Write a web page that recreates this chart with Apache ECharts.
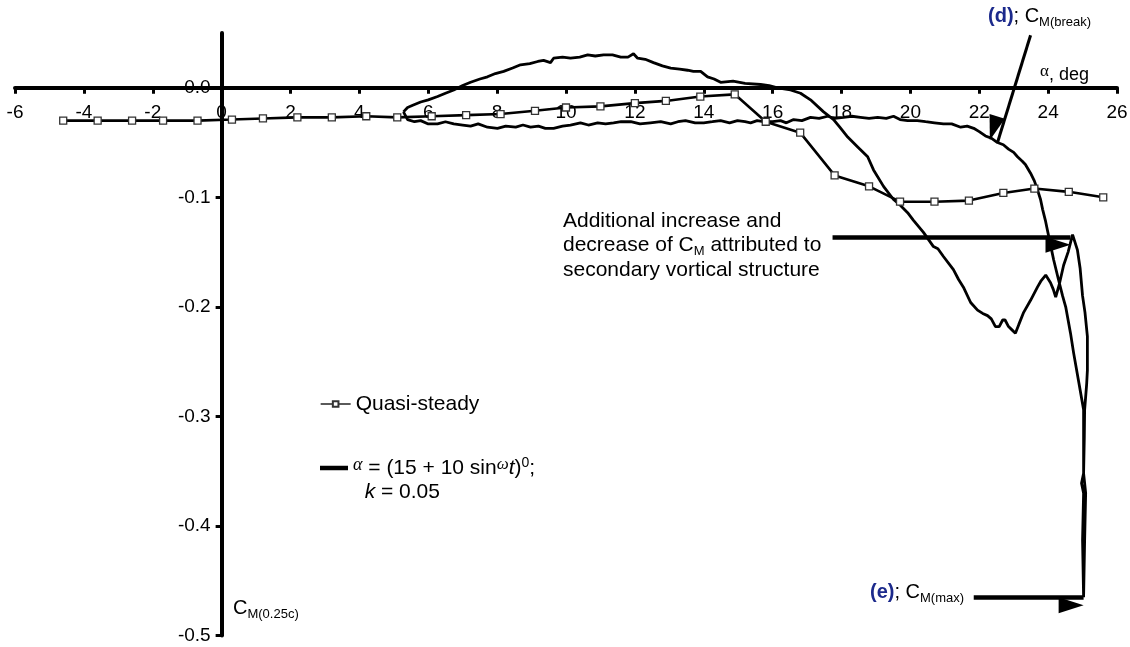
<!DOCTYPE html>
<html><head><meta charset="utf-8">
<script src="https://cdn.jsdelivr.net/npm/echarts@6/dist/echarts.min.js"></script>
<style>html,body{margin:0;padding:0;background:#fff}#c{width:1130px;height:647px}</style>
</head><body><div id="c"></div>
<script>
// ---------- data ----------
const xMin = -6, xMax = 26, xStep = 2;
const yMin = -0.5, yMax = 0.05, yStep = 0.1;
const yTickValues = [-0.5, -0.4, -0.3, -0.2, -0.1, 0];

const qsAlpha = [-4.6,-3.6,-2.6,-1.7,-0.7,0.3,1.2,2.2,3.2,4.2,5.1,6.1,7.1,8.1,9.1,10.0,11.0,12.0,12.9,13.9,14.9,15.8,16.8,17.8,18.8,19.7,20.7,21.7,22.7,23.6,24.6,25.6];
const qsCM = [-0.030,-0.030,-0.030,-0.030,-0.030,-0.029,-0.028,-0.027,-0.027,-0.026,-0.027,-0.026,-0.025,-0.024,-0.021,-0.018,-0.017,-0.014,-0.012,-0.008,-0.006,-0.031,-0.041,-0.080,-0.090,-0.104,-0.104,-0.103,-0.096,-0.092,-0.095,-0.100];

// oscillating case, upstroke (alpha increasing)
const upAlpha = [5.28,5.40,5.60,5.78,6.00,6.27,6.50,6.74,7.00,7.23,
7.45,7.72,8.01,8.25,8.54,8.75,8.97,9.20,9.40,9.64,
9.90,10.13,10.42,10.65,10.92,11.15,11.38,11.60,11.88,12.15,
12.45,12.75,13.04,13.25,13.47,13.75,14.00,14.25,14.49,14.75,
14.98,15.20,15.36,15.55,15.74,16.00,16.23,16.40,16.61,16.85,
17.10,17.35,17.60,17.80,18.06,18.30,18.55,18.80,19.05,19.30,
19.51,19.70,19.92,20.20,20.44,20.70,20.96,21.20,21.46,21.65,
21.84,22.00,22.18,22.35,22.53,22.70,22.85,23.00,23.11,23.25,
23.34,23.49,23.60,23.69,23.78,23.84,23.92,23.98,24.08,24.16,
24.30,24.42,24.51,24.65,24.74,24.88,25.03,25.03,25.03,24.97,
25.03,25.00,25.03];
const upCM = [-0.022,-0.029,-0.031,-0.030,-0.033,-0.033,-0.031,-0.033,-0.034,-0.035,
-0.033,-0.036,-0.037,-0.035,-0.036,-0.034,-0.036,-0.035,-0.037,-0.037,
-0.035,-0.034,-0.032,-0.034,-0.032,-0.033,-0.032,-0.031,-0.031,-0.033,
-0.032,-0.031,-0.033,-0.031,-0.030,-0.032,-0.032,-0.031,-0.030,-0.032,
-0.030,-0.031,-0.032,-0.030,-0.031,-0.031,-0.030,-0.032,-0.029,-0.030,
-0.027,-0.028,-0.026,-0.028,-0.027,-0.026,-0.027,-0.028,-0.027,-0.028,
-0.026,-0.029,-0.030,-0.030,-0.031,-0.032,-0.033,-0.033,-0.036,-0.035,
-0.037,-0.040,-0.044,-0.046,-0.050,-0.052,-0.056,-0.059,-0.063,-0.067,
-0.070,-0.078,-0.085,-0.093,-0.102,-0.111,-0.121,-0.130,-0.145,-0.157,
-0.175,-0.190,-0.200,-0.224,-0.242,-0.267,-0.294,-0.330,-0.352,-0.361,
-0.370,-0.413,-0.465];
// downstroke (alpha decreasing)
const downAlpha = [25.06,25.09,25.06,25.03,25.05,25.06,25.12,25.14,25.14,25.07,
25.00,24.93,24.85,24.71,24.58,24.45,24.32,24.22,24.15,24.07,
23.93,23.80,23.69,23.49,23.29,23.15,23.05,22.95,22.85,22.75,
22.68,22.58,22.47,22.35,22.24,22.10,21.95,21.75,21.54,21.40,
21.25,20.96,20.80,20.67,20.38,20.09,19.92,19.70,19.51,19.22,
18.93,18.76,18.47,18.18,17.95,17.77,17.48,17.10,16.81,16.52,
16.14,15.90,15.65,15.20,14.85,14.49,14.30,14.11,13.91,13.70,
13.53,13.30,13.04,12.80,12.54,12.30,12.08,11.96,11.80,11.59,
11.35,11.09,10.85,10.63,10.40,10.13,9.90,9.64,9.55,9.35,
9.18,8.95,8.68,8.45,8.19,7.95,7.72,7.50,7.23,7.00,
6.74,6.50,6.27,6.00,5.78,5.55,5.40,5.28];
const downCM = [-0.413,-0.370,-0.361,-0.352,-0.320,-0.294,-0.270,-0.258,-0.227,-0.205,
-0.190,-0.165,-0.148,-0.134,-0.150,-0.162,-0.180,-0.191,-0.184,-0.178,
-0.171,-0.176,-0.182,-0.194,-0.205,-0.216,-0.224,-0.221,-0.218,-0.212,
-0.212,-0.218,-0.218,-0.211,-0.208,-0.206,-0.203,-0.196,-0.182,-0.175,
-0.166,-0.154,-0.147,-0.145,-0.132,-0.121,-0.114,-0.107,-0.102,-0.090,
-0.075,-0.063,-0.054,-0.045,-0.036,-0.029,-0.022,-0.011,-0.005,-0.002,
0.000,0.002,0.003,0.004,0.006,0.005,0.008,0.010,0.015,0.015,
0.016,0.017,0.018,0.020,0.023,0.026,0.027,0.031,0.028,0.028,
0.030,0.030,0.029,0.030,0.028,0.027,0.028,0.027,0.023,0.025,
0.024,0.022,0.021,0.018,0.015,0.013,0.010,0.008,0.005,0.002,
-0.002,-0.005,-0.008,-0.011,-0.013,-0.016,-0.018,-0.022];

// annotation arrows (start point, tip) in data units
const arrowBreak = [[23.49, 0.048], [22.53, -0.050]];
const arrowSecondary = [[17.74, -0.136], [24.65, -0.136]];
const arrowMax = [[21.84, -0.465], [25.03, -0.465]];

// ---------- chart ----------
const SANS = 'Liberation Sans, Arial, Helvetica, sans-serif';
const SERIF = 'Liberation Serif, DejaVu Serif, Times New Roman, serif';
const BLUE = '#1c2a8c';
const zip = (a, b) => a.map((v, i) => [v, b[i]]);
const qsData = zip(qsAlpha, qsCM);
const dynData = zip(upAlpha.concat(downAlpha), upCM.concat(downCM));

function gRich(size) {
  return {
    n: {fontFamily: SANS, fontSize: size, lineHeight: 24.5, fill: '#000'},
    b: {fontFamily: SANS, fontSize: size, fontWeight: 'bold', lineHeight: 24.5, fill: BLUE},
    s: {fontFamily: SANS, fontSize: 13, lineHeight: 13, verticalAlign: 'bottom', fill: '#000'},
    ga: {fontFamily: SERIF, fontSize: 17, lineHeight: 15, verticalAlign: 'top', fill: '#000'}
  };
}
function gText(x, yTop, text, size) {
  return {type: 'text', x: x, y: yTop, silent: true,
    style: {text: text, rich: gRich(size), align: 'left', verticalAlign: 'top', fontFamily: SANS, fontSize: size, fill: '#000'}};
}

const arrowLine = (pair, w) => [
  {coord: pair[0], lineStyle: {width: w, color: '#000', type: 'solid'}},
  {coord: pair[1]}
];

const option = {
  animation: false,
  backgroundColor: '#fff',
  textStyle: {fontFamily: SANS},
  grid: {left: 15, right: 13, top: 33, bottom: 11.5, outerBoundsMode: 'none', containLabel: false},
  xAxis: {
    type: 'value', min: xMin, max: xMax, interval: xStep, position: 'bottom', offset: 0,
    axisLine: {onZero: false, lineStyle: {color: '#000', width: 4}},
    axisTick: {show: true, length: 6, lineStyle: {color: '#000', width: 3}},
    axisLabel: {color: '#000', fontSize: 19, margin: 15, fontFamily: SANS},
    splitLine: {show: false}
  },
  yAxis: {
    type: 'value', min: yMin, max: yMax, interval: yStep, position: 'left', offset: 0,
    axisLine: {onZero: false, lineStyle: {color: '#000', width: 4}},
    axisTick: {show: true, length: 6, customValues: yTickValues, lineStyle: {color: '#000', width: 3}},
    axisLabel: {color: '#000', fontSize: 19, margin: 11, fontFamily: SANS, customValues: yTickValues,
      formatter: v => Number(v).toFixed(1)},
    splitLine: {show: false}
  },
  legend: [
    {
      data: ['Quasi-steady'], left: 320, top: 392, padding: 0, selectedMode: false,
      itemWidth: 30, itemHeight: 7, itemGap: 0,
      lineStyle: {width: 1.3},
      textStyle: {color: '#000', fontSize: 21, fontFamily: SANS, lineHeight: 24}
    },
    {
      data: ['dyn'], left: 320, top: 456, padding: 0, selectedMode: false,
      icon: 'rect', itemWidth: 28, itemHeight: 4.5,
      itemStyle: {color: '#000'},
      formatter: () => '{ga|α}{n| = (15 + 10 sin}{gw|ω}{it|t}{n|)}{sup|0}{n|;}\n{n|  }{it|k}{n| = 0.05}',
      textStyle: {
        color: '#000', fontSize: 21, fontFamily: SANS, padding: [24, 0, 0, 0],
        rich: {
          n: {fontFamily: SANS, fontSize: 21, lineHeight: 24, color: '#000'},
          it: {fontFamily: SANS, fontSize: 21, fontStyle: 'italic', lineHeight: 24, color: '#000'},
          ga: {fontFamily: SERIF, fontSize: 18, fontStyle: 'italic', lineHeight: 14, verticalAlign: 'top', color: '#000'},
          gw: {fontFamily: SERIF, fontSize: 17, fontStyle: 'italic', lineHeight: 15, verticalAlign: 'top', color: '#000'},
          sup: {fontFamily: SANS, fontSize: 14, lineHeight: 14, verticalAlign: 'top', color: '#000'}
        }
      }
    }
  ],
  series: [
    {
      name: 'dyn', type: 'line', data: dynData, showSymbol: false, symbol: 'none',
      lineStyle: {color: '#000', width: 2.8}, z: 2, silent: true,
      markLine: {
        silent: true, animation: false,
        symbol: ['none', 'triangle'], symbolSize: [16, 25], symbolOffset: [0, '50%'],
        label: {show: false},
        lineStyle: {color: '#000', width: 4, type: 'solid'},
        itemStyle: {color: '#000'},
        data: [arrowLine(arrowBreak, 3), arrowLine(arrowSecondary, 4.5), arrowLine(arrowMax, 4.5)]
      }
    },
    {
      name: 'Quasi-steady', type: 'line', data: qsData,
      symbol: 'rect', symbolSize: 7, showAllSymbol: true,
      lineStyle: {color: '#000', width: 2.6},
      itemStyle: {color: '#fff', borderColor: '#333', borderWidth: 1.3},
      z: 3, silent: true
    }
  ],
  graphic: [
    gText(988, 4, '{b|(d)}{n|; C}{s|M(break)}', 20),
    gText(563, 208.5, '{n|Additional increase and}\n{n|decrease of C}{s|M}{n| attributed to}\n{n|secondary vortical structure}', 21),
    gText(870, 580, '{b|(e)}{n|; C}{s|M(max)}', 20),
    gText(233, 596, '{n|C}{s|M(0.25c)}', 20),
    gText(1040, 63, '{ga|α}{n|, deg}', 18)
  ]
};

const chart = echarts.init(document.getElementById('c'), null, {renderer: 'canvas'});
chart.setOption(option);
// move both axes so they cross at the data origin (0, 0), using the chart's own scales
const origin = chart.convertToPixel({gridIndex: 0}, [0, 0]);
const corner = chart.convertToPixel({gridIndex: 0}, [xMin, yMin]);
chart.setOption({
  xAxis: {offset: -(corner[1] - origin[1])},
  yAxis: {offset: -(origin[0] - corner[0])}
});
</script>
</body></html>
